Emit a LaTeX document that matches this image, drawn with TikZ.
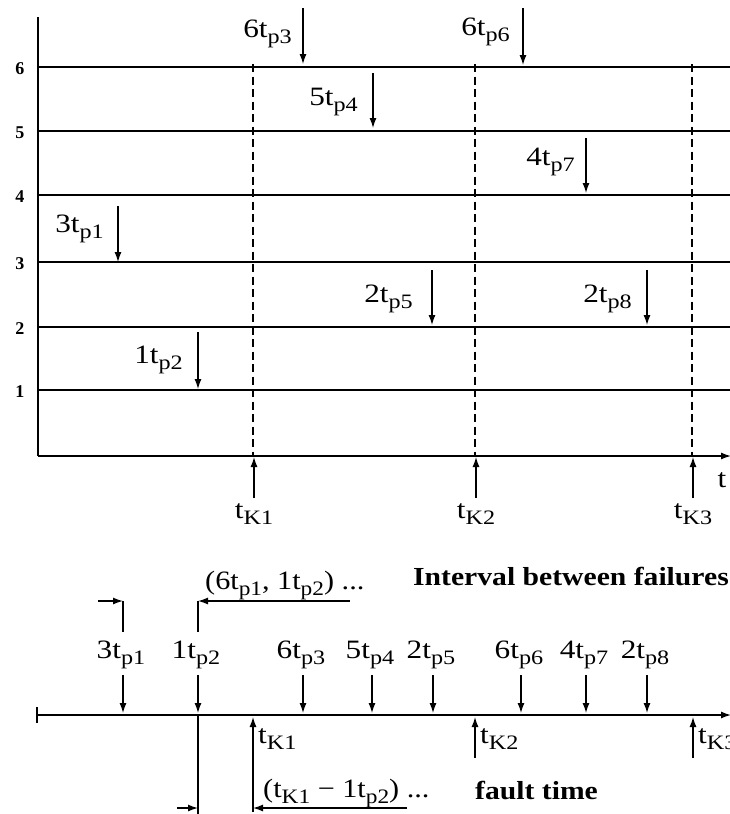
\documentclass[tikz,border=0pt]{standalone}
\usepackage{fontspec}
\usepackage{graphicx}
\setmainfont{Liberation Serif}
\usetikzlibrary{arrows.meta}
\newcommand\lsub[1]{\raisebox{-6pt}{\fontsize{20.5}{21}\selectfont #1}}
\newcommand\hx[1]{\scalebox{1.14}[1]{#1}}
\newcommand\hl[1]{\scalebox{1.18}[1]{#1}}
\newcommand\ev[2]{\hl{#1t\lsub{#2}}}
\newcommand\tk[1]{\hl{t\lsub{K#1}}}
\tikzset{
  lbl/.style={font=\fontsize{26.5}{30}\selectfont, inner sep=0pt},
  num/.style={font=\fontsize{18}{20}\selectfont\bfseries, inner sep=0pt},
  boldtxt/.style={font=\fontsize{26}{30}\selectfont\bfseries, inner sep=0pt},
  ln/.style={line width=1.1pt},
  arr/.style={line width=1.3pt, -{Latex[length=10pt,width=7pt]}},
  dsh/.style={line width=1.1pt, dash pattern=on 8pt off 4.5pt},
}
\begin{document}
\begin{tikzpicture}[x=1pt,y=-1pt]
\useasboundingbox (0,0) rectangle (730,814);
% ---------- top chart ----------
\coordinate (ya) at (38,17);
\coordinate (o) at (38,456);
\coordinate (xe) at (731,456);
\draw[ln] (ya) -- (o);
\draw[arr] (o) -- (xe);
\node[lbl, anchor=base] (tlab) at (722,487) {\hl{t}};
\foreach \k/\y in {6/67,5/131,4/195,3/262,2/327,1/390}{
  \coordinate (h\k a) at (38,\y);
  \coordinate (h\k b) at (730,\y);
  \draw[ln] (h\k a) -- (h\k b);
  \node[num] (n\k) at (20,\y+2) {\k};
}
% dashed control lines
\foreach \i/\x in {1/253,2/475,3/692}{
  \coordinate (d\i t) at (\x,64);
  \coordinate (d\i b) at (\x,456);
  \draw[dsh] (d\i t) -- (d\i b);
  \coordinate (k\i s) at (\x+1,498);
  \coordinate (k\i e) at (\x+1,457);
  \draw[arr] (k\i s) -- (k\i e);
  \node[lbl, anchor=base] (kl\i) at (\x+1,518) {\tk{\i}};
}
% failure arrows on the chart
\foreach \nm/\c/\s/\x/\yt/\yb/\lx/\ly in {
  a/3/p1/118/206/262/104/232,
  b/1/p2/198/332/389/183/363,
  c/6/p3/303/8/64/292/37,
  d/5/p4/373/73/128/358/105,
  e/2/p5/432/270/325/413/302,
  f/6/p6/523/8/65/510/35,
  g/4/p7/586/138/193/575/165,
  h/2/p8/647/270/325/632/302}{
  \coordinate (\nm s) at (\x,\yt);
  \coordinate (\nm e) at (\x,\yb);
  \draw[arr] (\nm s) -- (\nm e);
  \node[lbl, anchor=base east] (\nm l) at (\lx,\ly) {\ev{\c}{\s}};
}
% ---------- bottom time line ----------
\coordinate (bo) at (37,715);
\coordinate (be) at (731,715);
\coordinate (bt1) at (37,707);
\coordinate (bt2) at (37,723);
\draw[ln] (bt1) -- (bt2);
\draw[arr] (bo) -- (be);
\foreach \nm/\c/\s/\x in {
  A/3/p1/123, B/1/p2/198, C/6/p3/303, D/5/p4/372,
  E/2/p5/433, F/6/p6/521, G/4/p7/586, H/2/p8/647}{
  \coordinate (\nm s) at (\x,675);
  \coordinate (\nm e) at (\x,713);
  \draw[arr] (\nm s) -- (\nm e);
  \node[lbl, anchor=base] (\nm l) at (\x-2,658) {\ev{\c}{\s}};
}
% control moments on the bottom line
\coordinate (K1s) at (253,812);
\coordinate (K1e) at (253,717);
\draw[arr] (K1s) -- (K1e);
\node[lbl, anchor=base west] (K1l) at (258,743) {\tk{1}};
\coordinate (K2s) at (475,758);
\coordinate (K2e) at (475,717);
\draw[arr] (K2s) -- (K2e);
\node[lbl, anchor=base west] (K2l) at (480,743) {\tk{2}};
\coordinate (K3s) at (693,758);
\coordinate (K3e) at (693,717);
\draw[arr] (K3s) -- (K3e);
\node[lbl, anchor=base west] (K3l) at (698,743) {\tk{3}};
% interval between failures
\coordinate (i1) at (123,601);
\coordinate (i1d) at (123,632);
\coordinate (i2) at (198,601);
\coordinate (i2d) at (198,632);
\coordinate (i0) at (98,601);
\coordinate (i3) at (350,601);
\draw[ln] (i1) -- (i1d);
\draw[ln] (i2) -- (i2d);
\draw[arr] (i0) -- (i1);
\draw[arr] (i3) -- (i2);
\node[lbl, anchor=base west] (ilab) at (205,589) {\hx{(6t\lsub{p1}, 1t\lsub{p2}) ...}};
\node[boldtxt, anchor=base west] (itxt) at (413,585) {\hx{Interval between failures}};
% fault time
\coordinate (f1) at (198,716);
\coordinate (f1d) at (198,814);
\draw[ln] (f1) -- (f1d);
\coordinate (f0) at (177,808);
\coordinate (fb) at (198,808);
\coordinate (fk) at (253,808);
\coordinate (f3) at (407,808);
\draw[arr] (f0) -- (fb);
\draw[arr] (f3) -- (fk);
\node[lbl, anchor=base west] (flab) at (263,797) {\hx{(t\lsub{K1} − 1t\lsub{p2}) ...}};
\node[boldtxt, anchor=base west] (ftxt) at (475,799) {\hx{fault time}};
\end{tikzpicture}
\end{document}
